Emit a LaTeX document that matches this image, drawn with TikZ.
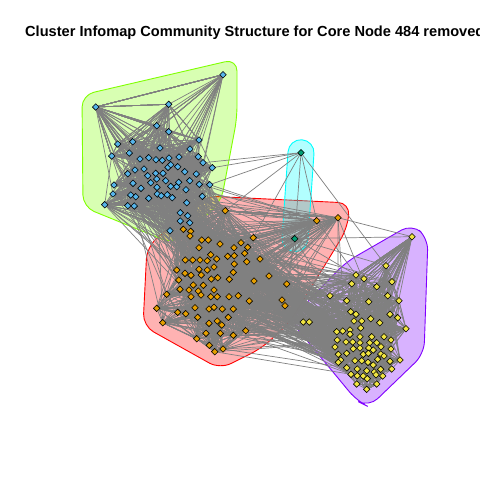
\documentclass[tikz,border=0pt]{standalone}
\usepackage{fontspec}
\setmainfont{Liberation Sans}
\usetikzlibrary{shapes.geometric}
\definecolor{eg}{HTML}{808080}
\definecolor{cb}{HTML}{56B4E9}
\definecolor{co}{HTML}{E69F00}
\definecolor{cy}{HTML}{F0E442}
\definecolor{ct}{HTML}{009E73}
\definecolor{hr}{HTML}{FF0000}
\definecolor{hg}{HTML}{80FF00}
\definecolor{hc}{HTML}{00FFFF}
\definecolor{hp}{HTML}{8000FF}
\tikzset{
  hull/.style={line width=0.9pt, fill opacity=0.3, draw opacity=1, rounded corners=12pt},
  edge/.style={draw=eg, line width=0.7pt},
  vtx/.style={diamond, draw=black, line width=0.6pt, inner sep=0pt, minimum size=6.8pt},
  ttl/.style={font=\bfseries\fontsize{14.6}{17}\selectfont, inner sep=0pt, anchor=base west},
}
\begin{document}
\begin{tikzpicture}[x=1pt,y=-1pt]
\useasboundingbox (0,0) rectangle (480,480);
\clip (0,0) rectangle (480,480);
\fill[white] (0,0) rectangle (480,480);
% ---------- vertex positions ----------
\foreach [count=\i] \p in {(95.7,107),(223,74.7),(168.7,104.3),(156.7,125.7),(168.7,131.7),(199,140),(117.7,144),(132.7,141.7),(111.7,156),(129.3,153),(160,148),(190,149),(140,159),(148.7,157.7),(156,159.7),(162.3,160.3),(169,158),(179,157),(198.3,156.7),(203,162.7),(212.3,167.7),(168,167.3),(135,170),(127.7,173.7),(144,169),(163,173.3),(155.7,173.3),(170.7,164.7),(177.7,166.7),(184.7,171.7),(196.3,174),(147.7,175.7),(133,183.3),(114,185),(141,188.3),(150.7,182.7),(156.7,179),(157,187.3),(165.7,180.7),(170.7,186.3),(176.7,186.7),(178.7,182.3),(189.7,180.7),(199.3,184.3),(209.7,184.7),(113,194),(130.7,195),(135.7,196.7),(148.7,198.3),(157.3,194),(161.3,195.7),(167.3,194.7),(172.3,197.7),(186,189.7),(202.3,196.3),(186.7,202.7),(127.7,205.7),(134.3,206),(104.7,204.7),(180.3,212.7),(187.7,215.7),(180.3,221),(189.7,222.7),(170,230.7)}
  {\path \p coordinate (b\i); \xdef\nb{\i}}
\foreach [count=\i] \p in {(225.3,210.7),(316.7,220.7),(338,217.7),(183.3,229.3),(190.7,231.3),(190,236),(201.7,240),(208.3,240),(253.3,237.7),(241,242.7),(220,244),(199,247.7),(234,247.7),(247.7,247.3),(227.7,256.3),(234.3,255.7),(244.7,253.3),(210.7,254.7),(260,259),(185.3,260),(192.7,260),(200,260),(207.3,260.7),(216.7,259),(246.7,261.7),(234.3,264),(207.3,270),(214,267),(199,269.3),(176.7,270),(185,273.3),(191,275.3),(201.3,275),(211.3,279),(217.7,277.7),(229.3,279.3),(233.3,272.3),(254,281),(269,276),(178.7,280),(203.3,285.3),(193.3,285),(189,290),(180,289.3),(198.3,291),(214,290),(286.7,284),(166.7,294.3),(191,296.7),(201,295),(210.7,296.7),(217.3,296.7),(229,296.7),(238.3,295.7),(249.3,301),(282,300),(285,305.7),(156.7,308.3),(195,307.7),(209,309),(214,307.3),(222.3,309),(233.3,309),(177.7,312.3),(185.7,313.7),(197.7,317.3),(228.3,317.3),(162.7,322.7),(209,323.3),(217.3,321),(221.7,325),(245.7,330.7),(206,333.3),(220.3,333.3),(233.3,335.3),(196.7,338.7),(209.3,345.3),(223,349),(214.7,351.7)}
  {\path \p coordinate (o\i); \xdef\no{\i}}
\foreach [count=\i] \p in {(412,236.7),(386,265.7),(356,275),(364,278.7),(351.7,283.7),(392,281.7),(376.7,286.7),(330,295.7),(346.7,300.7),(368.7,301.7),(387.7,295.7),(399,300.7),(303.3,322),(309.3,322),(350.7,311.7),(356,314.3),(390,314.3),(397.7,317.7),(370.7,318.7),(354,321),(361.7,321),(379.7,322.7),(360.7,328),(406,328.7),(336.7,331.7),(342.7,331),(350,330),(350,334.3),(360,336.7),(371.7,336.7),(384,336.7),(391,340),(337.3,340),(346,342),(352.7,342),(360,342.7),(369.7,342.7),(376.7,342.7),(381,346.7),(335,347),(353.3,348.7),(360,348),(368.7,348),(373.3,350),(391,349),(338.3,354.3),(346.7,353.3),(363.3,354.3),(368.3,353.3),(380.7,354),(384,356),(340.7,360),(338.3,362.3),(355,360.7),(361.7,360.7),(368,362.3),(373.3,365),(377.7,359.3),(390,361.3),(400,360),(346.7,367.7),(357.3,369),(366.7,370.7),(374.3,372),(380.7,369.3),(391.7,369),(351,374.3),(357.3,375.7),(363.3,376),(367.3,378.7),(376,374.7),(382.7,376),(356.7,384),(366.7,389.3),(376.7,384)}
  {\path \p coordinate (y\i); \xdef\ny{\i}}
\coordinate (t1) at (301,152.7);
\coordinate (t2) at (294.7,238.7);
\def\yleft{{8,9,13,14,15,16,20,21,25,26,27,28,33,34,35,40,41,46,47,52,53,54,61,67,3,5,23,29}}
\def\oright{{47,56,57,55,54,39,38,53,63,72,25,19,36,37,26,62,67,75,9,14,17,13,16,45,52,61}}
% ---------- community hulls ----------
\draw[hull, draw=hr, fill=hr] (205,196) -- (350,203) -- (347,229) -- (290,322) -- (262,348) -- (220,369) -- (143,326) -- (147,247) -- cycle;
\draw[hull, draw=hg, fill=hg] (82,95) -- (237,59) -- (237,118) -- (221,202) -- (174,244) -- (83,207) -- cycle;
\draw[draw=hc, fill=hc, line width=0.9pt, fill opacity=0.3] (313.97,153.6) -- (307.97,239.6) arc[start angle=4.04, end angle=184.04, radius=13] -- (288.03,151.8) arc[start angle=184.04, end angle=364.04, radius=13] -- cycle;
\draw[hull, draw=hp, fill=hp] (412,224) -- (428,238) -- (424,354) -- (369,407) -- (357,401) -- (290,320) -- (346,262) -- cycle;
% ---------- edges ----------
\pgfmathsetseed{4711}
\foreach \i in {1,...,\nb}{
  \foreach \k in {1,...,9}{
    \pgfmathtruncatemacro{\j}{random(1,\nb)}
    \draw[edge] (b\i) -- (b\j);
  }
  \foreach \k in {1,...,18}{
    \pgfmathtruncatemacro{\j}{max(1,min(\nb,\i+random(0,20)-10))}
    \draw[edge] (b\i) -- (b\j);
  }
}
\foreach \i in {1,...,\no}{
  \foreach \k in {1,...,8}{
    \pgfmathtruncatemacro{\j}{random(1,\no)}
    \draw[edge] (o\i) -- (o\j);
  }
  \foreach \k in {1,...,14}{
    \pgfmathtruncatemacro{\j}{max(1,min(\no,\i+random(0,20)-10))}
    \draw[edge] (o\i) -- (o\j);
  }
}
\foreach \i in {1,...,\ny}{
  \foreach \k in {1,...,8}{
    \pgfmathtruncatemacro{\j}{random(1,\ny)}
    \draw[edge] (y\i) -- (y\j);
  }
  \foreach \k in {1,...,14}{
    \pgfmathtruncatemacro{\j}{max(1,min(\ny,\i+random(0,20)-10))}
    \draw[edge] (y\i) -- (y\j);
  }
}
% between communities
\foreach \k in {1,...,240}{
  \pgfmathtruncatemacro{\a}{random(35,\nb)}
  \pgfmathtruncatemacro{\c}{random(1,40)}
  \draw[edge] (b\a) -- (o\c);
}
\foreach \k in {1,...,50}{
  \pgfmathtruncatemacro{\a}{random(1,\nb)}
  \pgfmathtruncatemacro{\c}{random(1,\no)}
  \draw[edge] (b\a) -- (o\c);
}
\foreach \k in {1,...,160}{
  \pgfmathtruncatemacro{\a}{random(1,\no)}
  \pgfmathtruncatemacro{\c}{\yleft[random(0,27)]}
  \draw[edge] (o\a) -- (y\c);
}
\foreach \k in {1,...,110}{
  \pgfmathtruncatemacro{\a}{\oright[random(0,25)]}
  \pgfmathtruncatemacro{\c}{\yleft[random(0,27)]}
  \draw[edge] (o\a) -- (y\c);
}
\foreach \k in {1,...,50}{
  \pgfmathtruncatemacro{\a}{random(1,\no)}
  \pgfmathtruncatemacro{\c}{random(1,\ny)}
  \draw[edge] (o\a) -- (y\c);
}
\foreach \k in {1,...,16}{
  \pgfmathtruncatemacro{\a}{random(15,\nb)}
  \pgfmathtruncatemacro{\c}{random(1,\ny)}
  \draw[edge] (b\a) -- (y\c);
}
\foreach \v in {b21,b45,b20,o1,o2,o9,t2,y2}{\draw[edge] (t1) -- (\v);}
\foreach \v in {o2,o3,o9,o10,o19,o25,o39,o47,o57,o38,o14,y1,y2,y8,y13,y3,b44,b55}{\draw[edge] (t2) -- (\v);}
% ---------- vertices ----------
\foreach \i in {1,...,\nb}{\node[vtx, fill=cb] (B\i) at (b\i) {};}
\foreach \i in {1,...,\no}{\node[vtx, fill=co] (O\i) at (o\i) {};}
\foreach \i in {1,...,\ny}{\node[vtx, fill=cy] (Y\i) at (y\i) {};}
\node[vtx, fill=ct] (T1) at (t1) {};
\node[vtx, fill=ct] (T2) at (t2) {};
% ---------- title ----------
\node[ttl] (title) at (25,36) {Cluster Infomap Community Structure for Core Node 484 removed};
\end{tikzpicture}
\end{document}
